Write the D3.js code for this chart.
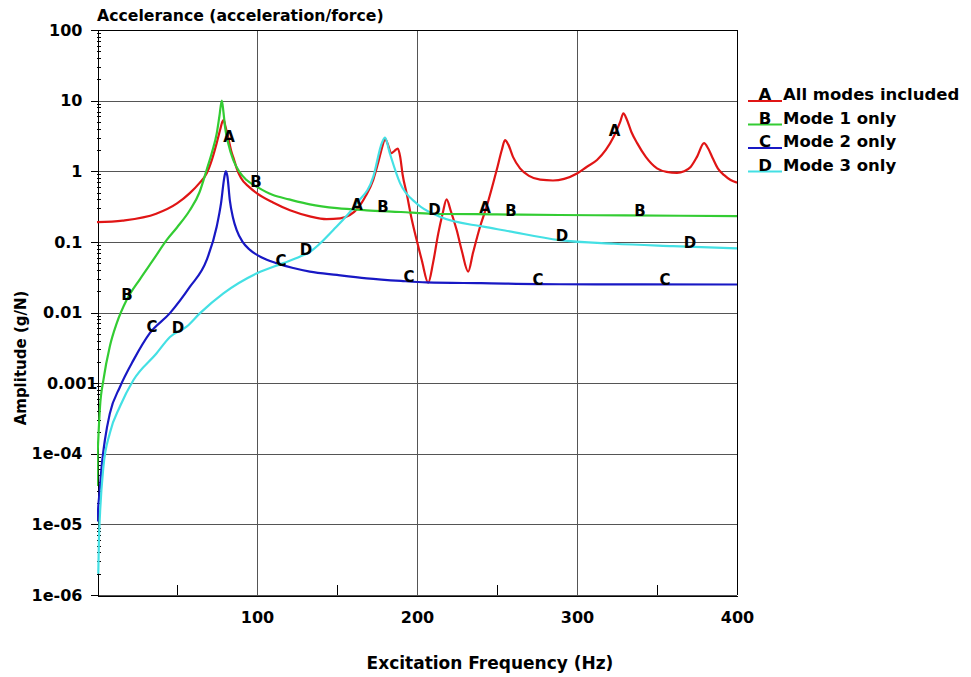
<!DOCTYPE html>
<html>
<head>
<meta charset="utf-8">
<script src="https://cdn.jsdelivr.net/npm/d3@7"></script>
<style>
  body { margin: 0; background: #fff; }
  svg { display: block; }
  text { font-family: "DejaVu Sans", sans-serif; fill: #000; }
</style>
</head>
<body>
<script>
// Frequency response (accelerance) of a 3-mode system: full response and single-mode contributions

// A: all modes included
const freqA = [0, 16, 37, 50, 58, 64, 68.5, 72, 74.8, 77, 78.3, 79.2, 80, 81, 82, 84, 85.5, 87.3, 90, 95, 99.8, 110, 120.6, 133, 143.5, 152, 158, 163, 168, 172.6, 176, 178.5, 180, 181.5, 184, 186, 188, 189.5, 191, 193.5, 196.5, 199.8, 203, 207, 210, 213.3, 216, 218.5, 221, 224.8, 228, 232, 235, 239.4, 243.5, 249.8, 253, 255, 257, 260, 264.4, 270, 277, 285, 292, 300, 306, 312.5, 318, 323, 327, 329, 331, 334, 337.6, 343, 350, 356, 362.5, 367, 371, 375, 379.4, 382, 385, 388, 392, 396, 400];
const ampA  = [0.19, 0.2, 0.25, 0.35, 0.49, 0.68, 0.93, 1.5, 2.5, 3.9, 5.0, 5.3, 4.6, 3.7, 3.0, 1.9, 1.5, 1.1, 0.8, 0.6, 0.49, 0.36, 0.28, 0.23, 0.21, 0.215, 0.24, 0.30, 0.45, 0.75, 1.4, 2.3, 2.9, 2.5, 1.8, 1.95, 2.1, 1.6, 0.9, 0.49, 0.22, 0.106, 0.055, 0.0264, 0.05, 0.132, 0.25, 0.40, 0.28, 0.147, 0.075, 0.038, 0.07, 0.164, 0.315, 1.04, 2.0, 2.75, 2.4, 1.6, 1.1, 0.86, 0.76, 0.74, 0.78, 0.93, 1.15, 1.44, 2.0, 3.1, 5.0, 6.6, 5.5, 3.6, 2.5, 1.6, 1.1, 0.98, 0.95, 1.0, 1.15, 1.6, 2.5, 2.1, 1.5, 1.1, 0.88, 0.75, 0.69];

// B: mode 1 only
const freqB = [0, 0.4, 0.8, 1.9, 4, 8, 12.3, 18.5, 27, 35, 43.5, 50, 58, 64, 68.5, 72, 74.8, 76.5, 78, 79, 80, 82, 85.2, 89, 93.5, 100, 110, 120, 133, 150, 168.5, 190, 210, 250, 289, 330, 400];
const ampB  = [3.5e-5, 1e-4, 1.6e-4, 4.7e-4, 1.1e-3, 3.3e-3, 7e-3, 0.015, 0.03, 0.055, 0.106, 0.16, 0.28, 0.5, 1.04, 1.9, 3.4, 6, 10, 7, 4.3, 2.5, 1.44, 0.98, 0.75, 0.6, 0.46, 0.4, 0.34, 0.3, 0.28, 0.265, 0.25, 0.245, 0.24, 0.237, 0.232];

// C: mode 2 only
const freqC = [0.2, 0.8, 1.5, 2.9, 5, 8, 14.4, 22.7, 33, 45.6, 58, 68.5, 74.8, 77.5, 79.5, 80.5, 81.5, 83, 85, 87.3, 91, 95.6, 103, 112, 122, 133, 150, 168.5, 190, 206, 240, 289, 340, 400];
const ampC  = [1.1e-5, 1.8e-5, 2.7e-5, 6.6e-5, 1.6e-4, 3.7e-4, 8.9e-4, 2.1e-3, 5.1e-3, 0.0098, 0.023, 0.055, 0.164, 0.35, 0.8, 1.0, 0.85, 0.39, 0.22, 0.147, 0.1, 0.077, 0.06, 0.05, 0.043, 0.038, 0.034, 0.0305, 0.028, 0.0267, 0.026, 0.0251, 0.025, 0.0249];

// D: mode 3 only
const freqD = [0.8, 1.2, 1.9, 4, 8, 14.4, 22.7, 37, 45.6, 56, 64.4, 79, 100, 116.5, 127, 133, 147.7, 162.3, 172.7, 178, 180, 183, 189.4, 199.8, 214, 241.5, 255, 289, 323, 360, 400];
const ampD  = [2e-6, 6e-6, 1.45e-5, 6.5e-5, 1.95e-4, 4.7e-4, 1.1e-3, 2.6e-3, 4.5e-3, 6.3e-3, 9.8e-3, 0.0187, 0.036, 0.05, 0.062, 0.072, 0.147, 0.35, 0.84, 2.5, 3.0, 1.8, 0.68, 0.35, 0.228, 0.164, 0.145, 0.106, 0.094, 0.087, 0.081];

// Frequencies at which each curve carries its letter marker
const markFreqA = [82.5, 162.5, 242.5, 323.5];
const markFreqB = [18.75, 99.4, 178.75, 258.75, 339.4];
const markFreqC = [34.4, 115, 195, 275.6, 355];
const markFreqD = [50.6, 130.6, 211, 290.6, 370.6];

const seriesLetters = ["A", "B", "C", "D"];
const seriesNames = ["All modes included", "Mode 1 only", "Mode 2 only", "Mode 3 only"];
const seriesColors = ["#e01515", "#33cc33", "#1818c4", "#44e0e4"];

const xTickValues = [100, 200, 300, 400];
const xMinorValues = [50, 150, 250, 350];
const yTickValues = [1e-6, 1e-5, 1e-4, 1e-3, 1e-2, 1e-1, 1, 10, 100];
const yTickLabels = ["1e-06", "1e-05", "1e-04", "0.001", "0.01", "0.1", "1", "10", "100"];

const titleText = "Accelerance (acceleration/force)";
const xTitle = "Excitation Frequency (Hz)";
const yTitle = "Amplitude (g/N)";

const W = 971, H = 677;
const plot = { left: 97, right: 737, top: 30, bottom: 595 };

const svg = d3.select("body").append("svg").attr("width", W).attr("height", H);

const x = d3.scaleLinear().domain([0, 400]).range([plot.left, plot.right]);
const y = d3.scaleLog().domain([1e-6, 100]).range([plot.bottom, plot.top]);

// Grid
const grid = svg.append("g").attr("stroke", "#555").attr("stroke-width", 1).attr("shape-rendering", "crispEdges");
grid.selectAll("line.h").data(yTickValues).join("line")
  .attr("x1", plot.left).attr("x2", plot.right)
  .attr("y1", d => Math.round(y(d)) + 0.5).attr("y2", d => Math.round(y(d)) + 0.5);
grid.selectAll("line.v").data(xTickValues).join("line")
  .attr("x1", d => Math.round(x(d)) + 0.5).attr("x2", d => Math.round(x(d)) + 0.5)
  .attr("y1", plot.top).attr("y2", plot.bottom);

// Left axis with log minor ticks
const yAxis = d3.axisLeft(y).tickValues(yTickValues).tickFormat((d, i) => yTickLabels[i]).tickSize(7).tickPadding(8);
const yg = svg.append("g").attr("transform", `translate(${plot.left + 0.5},0)`).call(yAxis);
yg.select(".domain").attr("stroke", "#000").attr("shape-rendering", "crispEdges");
yg.selectAll(".tick line").attr("stroke", "#000").attr("shape-rendering", "crispEdges");
yg.selectAll(".tick text")
  .style("font-family", "DejaVu Sans, sans-serif").style("font-size", "16px").style("font-weight", "bold")
  .attr("dx", d => (d === 1e-3 ? 15 : 0));

const minorY = [];
for (let e = -6; e < 2; e++) for (let m = 2; m <= 9; m++) minorY.push(m * Math.pow(10, e));
svg.append("g").attr("stroke", "#000").attr("shape-rendering", "crispEdges")
  .selectAll("line").data(minorY).join("line")
  .attr("x1", plot.left).attr("x2", plot.left + 4)
  .attr("y1", d => Math.round(y(d)) + 0.5).attr("y2", d => Math.round(y(d)) + 0.5);

// Bottom axis
const xAxis = d3.axisBottom(x).tickValues(xTickValues).tickSize(0).tickPadding(16).tickFormat(d3.format("d"));
const xg = svg.append("g").attr("transform", `translate(0,${plot.bottom + 0.5})`).call(xAxis);
xg.select(".domain").attr("stroke", "#000").attr("shape-rendering", "crispEdges");
xg.selectAll(".tick text")
  .style("font-family", "DejaVu Sans, sans-serif").style("font-size", "16px").style("font-weight", "bold");
svg.append("g").attr("stroke", "#000").attr("shape-rendering", "crispEdges")
  .selectAll("line").data(xMinorValues).join("line")
  .attr("x1", d => Math.round(x(d)) + 0.5).attr("x2", d => Math.round(x(d)) + 0.5)
  .attr("y1", plot.bottom).attr("y2", plot.bottom - 10);

// Top and right frame
svg.append("line").attr("x1", plot.left).attr("x2", plot.right + 1).attr("y1", plot.top + 0.5).attr("y2", plot.top + 0.5)
  .attr("stroke", "#000").attr("shape-rendering", "crispEdges");
svg.append("line").attr("x1", plot.right + 0.5).attr("x2", plot.right + 0.5).attr("y1", plot.top).attr("y2", plot.bottom)
  .attr("stroke", "#000").attr("shape-rendering", "crispEdges");

// Curves
svg.append("clipPath").attr("id", "plotClip").append("rect")
  .attr("x", plot.left).attr("y", plot.top - 1).attr("width", plot.right - plot.left + 2).attr("height", plot.bottom - plot.top + 1);

const series = [
  { f: freqA, a: ampA, marks: markFreqA },
  { f: freqB, a: ampB, marks: markFreqB },
  { f: freqC, a: ampC, marks: markFreqC },
  { f: freqD, a: ampD, marks: markFreqD }
].map((s, i) => ({ ...s, letter: seriesLetters[i], name: seriesNames[i], color: seriesColors[i] }));

const line = d3.line().x(d => x(d[0])).y(d => y(d[1])).curve(d3.curveMonotoneX);
const drawOrder = [0, 2, 1, 3];
const curves = svg.append("g").attr("clip-path", "url(#plotClip)");
drawOrder.forEach(i => {
  const s = series[i];
  curves.append("path")
    .datum(s.f.map((f, k) => [f, s.a[k]]))
    .attr("fill", "none").attr("stroke", s.color).attr("stroke-width", 2.2)
    .attr("stroke-linejoin", "round")
    .attr("d", line);
});

// Value of a curve at a frequency (log-linear between samples)
function valueAt(s, f) {
  const k = Math.max(1, Math.min(s.f.length - 1, d3.bisectRight(s.f, f)));
  const f0 = s.f[k - 1], f1 = s.f[k];
  const t = (f - f0) / (f1 - f0);
  return Math.pow(10, Math.log10(s.a[k - 1]) + t * (Math.log10(s.a[k]) - Math.log10(s.a[k - 1])));
}

// Letter markers along each curve
const markers = svg.append("g");
series.forEach(s => {
  s.marks.forEach(f => {
    markers.append("text")
      .attr("x", x(f)).attr("y", y(valueAt(s, f)) + 1)
      .attr("text-anchor", "middle")
      .style("font-size", "15px").style("font-weight", "bold")
      .text(s.letter);
  });
});

// Titles
svg.append("text").attr("x", plot.left).attr("y", 21)
  .style("font-size", "15.7px").style("font-weight", "bold").text(titleText);
svg.append("text").attr("x", 490).attr("y", 669).attr("text-anchor", "middle")
  .style("font-size", "17px").style("font-weight", "bold").text(xTitle);
svg.append("text").attr("transform", "translate(26,358) rotate(-90)").attr("text-anchor", "middle")
  .style("font-size", "15px").style("font-weight", "bold").text(yTitle);

// Legend
const legend = svg.append("g").attr("transform", "translate(748,101)");
series.forEach((s, i) => {
  const g = legend.append("g").attr("transform", `translate(0,${i * 23.5})`);
  g.append("line").attr("x1", 0).attr("x2", 34).attr("y1", 0).attr("y2", 0)
    .attr("stroke", s.color).attr("stroke-width", 2.2);
  g.append("text").attr("x", 17).attr("y", -1).attr("text-anchor", "middle")
    .style("font-size", "16.5px").style("font-weight", "bold").text(s.letter);
  g.append("text").attr("x", 35).attr("y", -1)
    .style("font-size", "16.5px").style("font-weight", "bold").text(s.name);
});
</script>
</body>
</html>
